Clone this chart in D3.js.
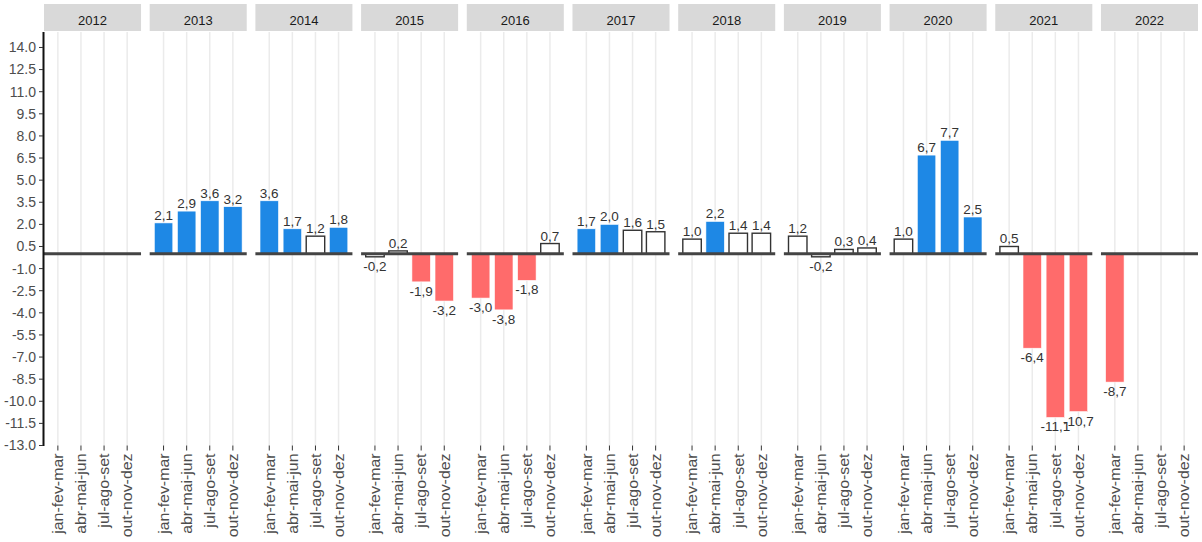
<!DOCTYPE html>
<html>
<head>
<meta charset="utf-8">
<title>Variação trimestral</title>
<script src="https://cdnjs.cloudflare.com/ajax/libs/d3/7.8.5/d3.min.js"></script>
<style>
  html, body { margin: 0; background: #fff; }
  svg { display: block; font-family: "Liberation Sans", Arial, sans-serif; }
</style>
</head>
<body>
<svg id="chart" width="1202" height="542"></svg>
<script>
// facet years and quarters
var years = ["2012","2013","2014","2015","2016","2017","2018","2019","2020","2021","2022"];
var quarters = ["jan-fev-mar","abr-mai-jun","jul-ago-set","out-nov-dez"];

// values per year (null = no data)
var values = [
  [null, null, null, null],
  [2.1, 2.9, 3.6, 3.2],
  [3.6, 1.7, 1.2, 1.8],
  [-0.2, 0.2, -1.9, -3.2],
  [-3.0, -3.8, -1.8, 0.7],
  [1.7, 2.0, 1.6, 1.5],
  [1.0, 2.2, 1.4, 1.4],
  [1.2, -0.2, 0.3, 0.4],
  [1.0, 6.7, 7.7, 2.5],
  [0.5, -6.4, -11.1, -10.7],
  [-8.7, null, null, null]
];
// A = alta, E = estável, Q = queda
var classes = [
  ["", "", "", ""],
  ["A", "A", "A", "A"],
  ["A", "A", "E", "A"],
  ["E", "E", "Q", "Q"],
  ["Q", "Q", "Q", "E"],
  ["A", "A", "E", "E"],
  ["E", "A", "E", "E"],
  ["E", "E", "E", "E"],
  ["E", "A", "A", "A"],
  ["E", "Q", "Q", "Q"],
  ["Q", "", "", ""]
];
var yTicks = d3.range(-13, 14.01, 1.5);

var fills = { A: "#1e88e5", E: "#ffffff", Q: "#ff6b6b" };
var strokes = { A: "#ffffff", E: "#333333", Q: "#ffffff" };

var svg = d3.select("#chart");
var pTop = 32, pBottom = 445.5, pLeft = 44, pRight = 1198;

var fx = d3.scaleBand().domain(years).range([pLeft, pRight]).paddingInner(0.082);
var x = d3.scalePoint().domain(quarters).range([0, fx.bandwidth()]).padding(0.6);
var step = x.step();
var y = d3.scaleLinear().domain([-13, 15.05]).range([pBottom, pTop]);

var fmt = function(v) { return d3.format(".1f")(v).replace(".", ",").replace("−", "-"); };

var rows = [];
years.forEach(function(yr, i) {
  quarters.forEach(function(q, j) {
    rows.push({ year: yr, q: q, v: values[i][j], c: classes[i][j] });
  });
});

var panels = svg.selectAll("g.panel")
  .data(years).enter().append("g")
  .attr("class", "panel")
  .attr("transform", function(d) { return "translate(" + fx(d) + ",0)"; });

// strips
panels.append("rect")
  .attr("x", 0).attr("y", 4)
  .attr("width", fx.bandwidth()).attr("height", pTop - 5)
  .attr("fill", "#d9d9d9");
panels.append("text")
  .attr("x", fx.bandwidth() / 2).attr("y", 25)
  .attr("text-anchor", "middle")
  .attr("font-size", 13)
  .attr("fill", "#1a1a1a")
  .text(function(d) { return d; });

// vertical grid
panels.selectAll("line.grid")
  .data(quarters).enter().append("line")
  .attr("x1", function(d) { return x(d); }).attr("x2", function(d) { return x(d); })
  .attr("y1", pTop).attr("y2", pBottom)
  .attr("stroke", "#ebebeb").attr("stroke-width", 1.5);

// x ticks
panels.selectAll("line.tick")
  .data(quarters).enter().append("line")
  .attr("x1", function(d) { return x(d); }).attr("x2", function(d) { return x(d); })
  .attr("y1", pBottom).attr("y2", pBottom + 5)
  .attr("stroke", "#333").attr("stroke-width", 1);

// x labels
panels.selectAll("text.xl")
  .data(quarters).enter().append("text")
  .attr("transform", function(d) { return "translate(" + x(d) + "," + (pBottom + 8) + ") rotate(-90) scale(1.06,1)"; })
  .attr("text-anchor", "end")
  .attr("dy", "0.35em")
  .attr("font-size", 15)
  .attr("fill", "#4d4d4d")
  .text(function(d) { return d; });

// bars
panels.each(function(yr, i) {
  var g = d3.select(this);
  var data = rows.filter(function(r) { return r.year === yr && r.v !== null; });

  g.selectAll("rect.bar")
    .data(data).enter().append("rect")
    .attr("x", function(d) { return x(d.q) - step * 0.4; })
    .attr("width", step * 0.8)
    .attr("y", function(d) { return y(Math.max(0, d.v)); })
    .attr("height", function(d) { return Math.abs(y(d.v) - y(0)); })
    .attr("fill", function(d) { return fills[d.c]; })
    .attr("stroke", function(d) { return strokes[d.c]; })
    .attr("stroke-width", function(d) { return d.c === "E" ? 1.4 : 0.6; });

  // zero line
  g.append("line")
    .attr("x1", 0).attr("x2", fx.bandwidth())
    .attr("y1", y(0)).attr("y2", y(0))
    .attr("stroke", "#444").attr("stroke-width", 3);

  g.selectAll("text.lab")
    .data(data).enter().append("text")
    .attr("x", function(d) { return x(d.q); })
    .attr("y", function(d) { return d.v >= 0 ? y(d.v) - 3 : y(d.v) + 14; })
    .attr("text-anchor", "middle")
    .attr("font-size", 13.5)
    .attr("fill", "#333")
    .text(function(d) { return fmt(d.v); });
});

// y axis
var ya = svg.append("g");
ya.append("line")
  .attr("x1", pLeft - 0.5).attr("x2", pLeft - 0.5)
  .attr("y1", pTop).attr("y2", pBottom + 0.5)
  .attr("stroke", "#111").attr("stroke-width", 2);
ya.selectAll("line.t").data(yTicks).enter().append("line")
  .attr("x1", pLeft - 5).attr("x2", pLeft - 1)
  .attr("y1", function(d) { return y(d); }).attr("y2", function(d) { return y(d); })
  .attr("stroke", "#333");
ya.selectAll("text").data(yTicks).enter().append("text")
  .attr("x", pLeft - 8)
  .attr("y", function(d) { return y(d); })
  .attr("dy", "0.35em")
  .attr("text-anchor", "end")
  .attr("font-size", 14)
  .attr("fill", "#4d4d4d")
  .text(function(d) { return d3.format(".1f")(d).replace("−", "-"); });
</script>
</body>
</html>
